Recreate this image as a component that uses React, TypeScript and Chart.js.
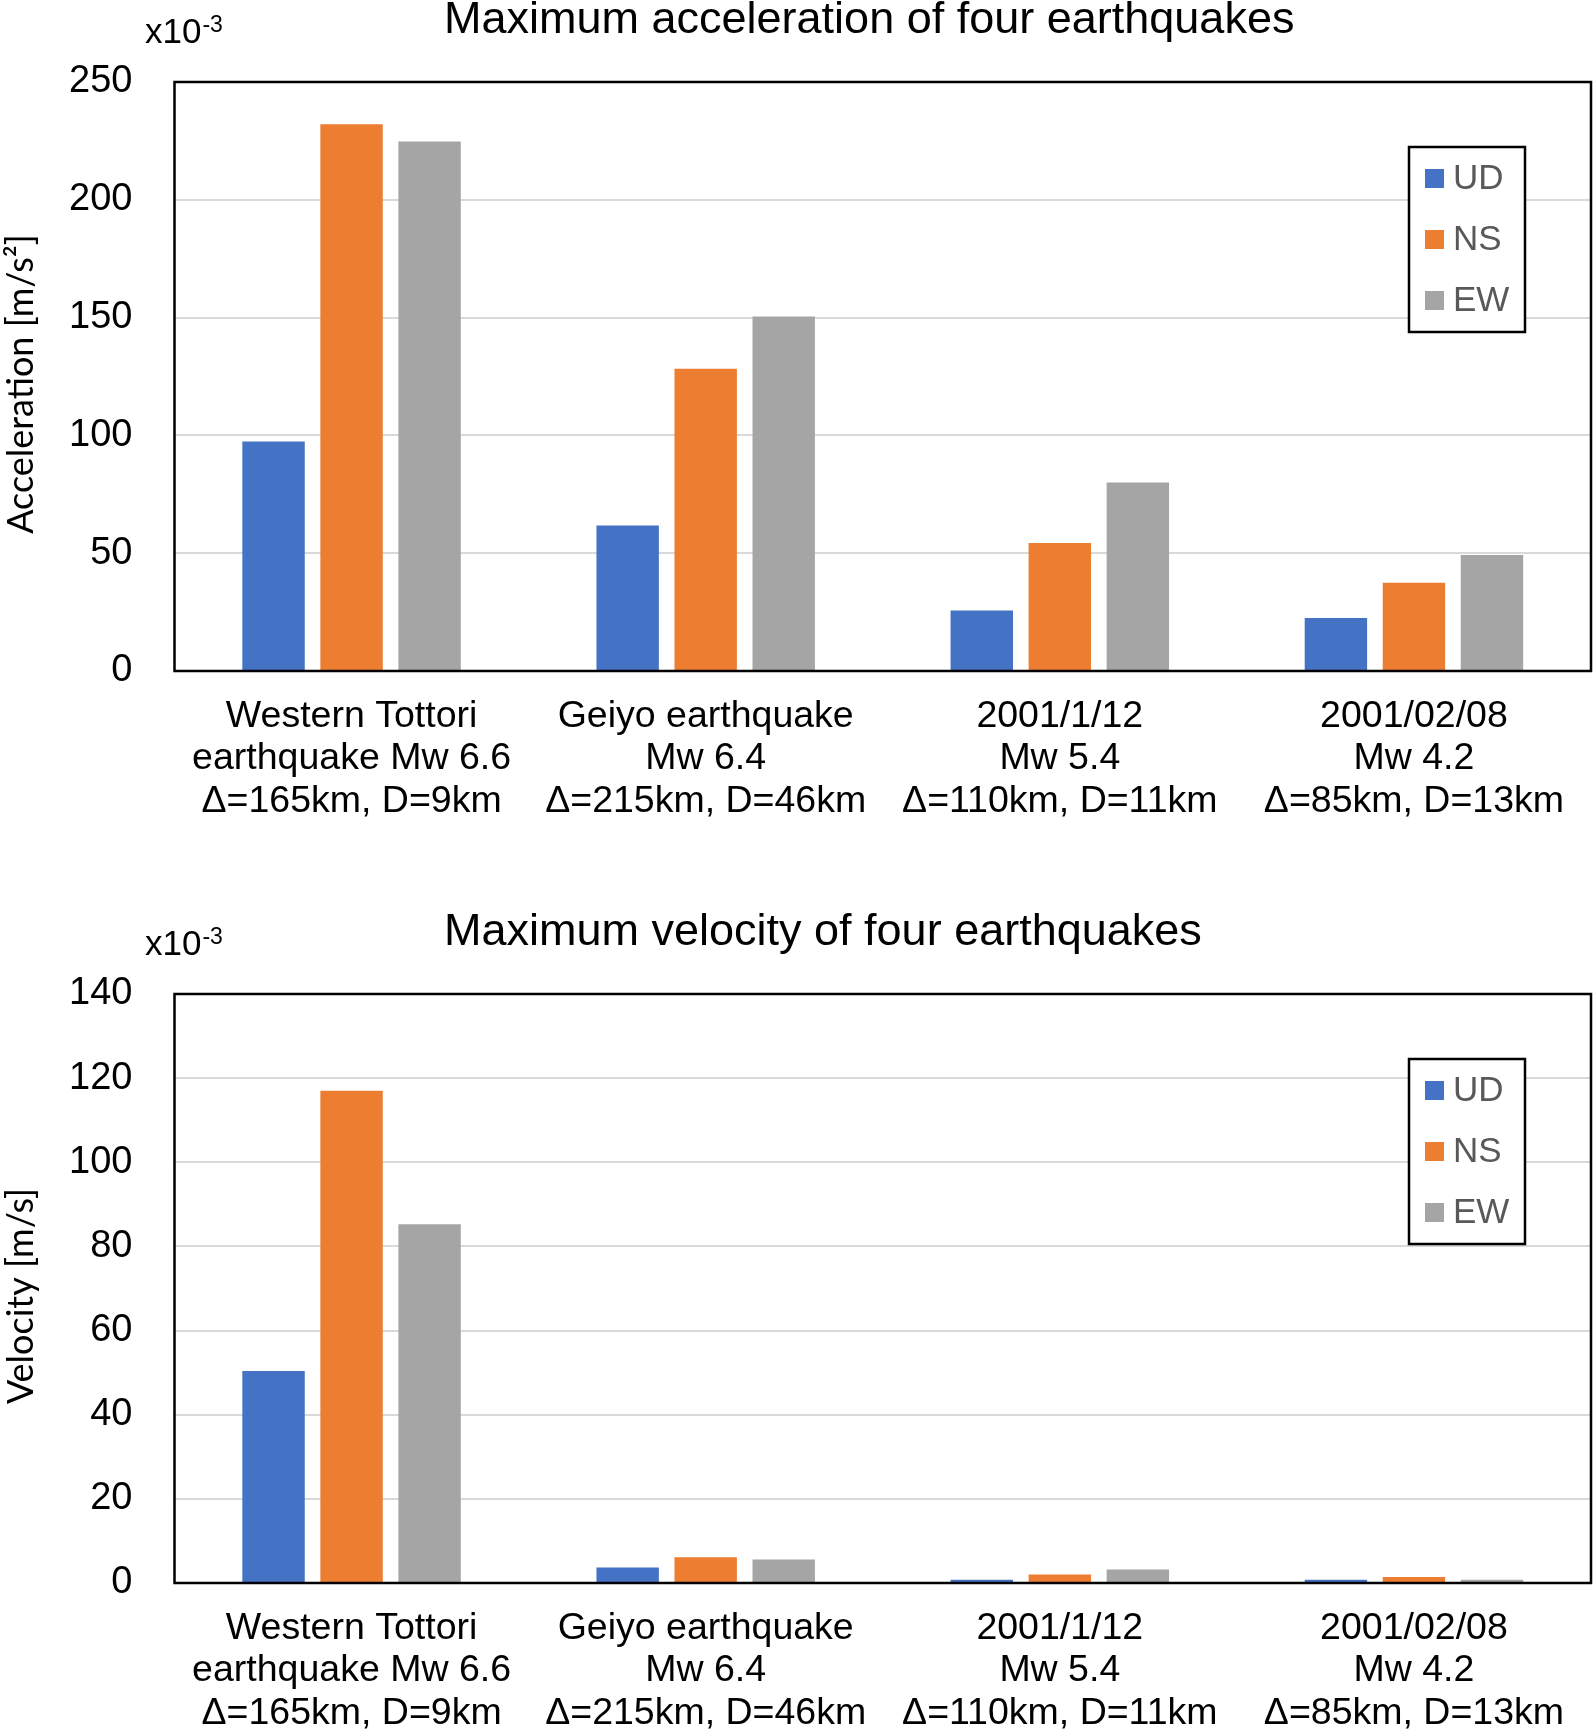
import React, { useEffect, useRef } from "react";
import { Chart, registerables } from "chart.js";

Chart.register(...registerables);

const FONT = "'Liberation Sans', Arial, sans-serif";

const categories: string[][] = [
  ["Western Tottori", "earthquake Mw 6.6", "Δ=165km, D=9km"],
  ["Geiyo earthquake", "Mw 6.4", "Δ=215km, D=46km"],
  ["2001/1/12", "Mw 5.4", "Δ=110km, D=11km"],
  ["2001/02/08", "Mw 4.2", "Δ=85km, D=13km"],
];
const seriesLabels = ["UD", "NS", "EW"];
const seriesColors = ["#4472C4", "#ED7D31", "#A5A5A5"];

const accUD = [97.4, 61.8, 25.7, 22.5];
const accNS = [232.1, 128.3, 54.3, 37.5];
const accEW = [224.7, 150.5, 80.0, 49.2];

const velUD = [50.4, 3.7, 0.8, 0.8];
const velNS = [117.0, 6.1, 2.0, 1.4];
const velEW = [85.3, 5.6, 3.2, 0.8];

const accAxis = { max: 250, step: 50 };
const velAxis = { max: 140, step: 20 };

const decoPlugin = {
  id: "deco",
  afterDatasetsDraw(chart: any, _args: any, opts: any) {
    const { ctx, chartArea: a } = chart;
    ctx.save();
    // plot border
    ctx.strokeStyle = "#000";
    ctx.lineWidth = 2.5;
    ctx.strokeRect(a.left, a.top, a.right - a.left, a.bottom - a.top);

    // legend box
    const bx = 1409, by = a.top + 65, bw = 116, bh = 185;
    ctx.fillStyle = "#fff";
    ctx.fillRect(bx, by, bw, bh);
    ctx.strokeStyle = "#000";
    ctx.lineWidth = 2.5;
    ctx.strokeRect(bx, by, bw, bh);
    ctx.font = `35px ${FONT}`;
    ctx.textAlign = "left";
    ctx.textBaseline = "middle";
    chart.data.datasets.forEach((ds: any, i: number) => {
      const cy = by + 31 + i * 61;
      ctx.fillStyle = ds.backgroundColor;
      ctx.fillRect(bx + 16, cy - 9, 19, 19);
      ctx.fillStyle = "#595959";
      ctx.fillText(ds.label, bx + 44, cy + 1);
    });

    // title
    ctx.fillStyle = "#000";
    ctx.textBaseline = "alphabetic";
    ctx.font = `45px ${FONT}`;
    ctx.fillText(opts.title, 444, 33);

    // x10^-3
    ctx.font = `35px ${FONT}`;
    ctx.fillText("x10", 145, 43);
    const w = ctx.measureText("x10").width;
    ctx.font = `23px ${FONT}`;
    ctx.fillText("-3", 145 + w + 1, 32);

    // y axis title
    ctx.save();
    ctx.translate(33, 384);
    ctx.rotate(-Math.PI / 2);
    ctx.textAlign = "center";
    ctx.textBaseline = "alphabetic";
    ctx.font = "36px Lato, 'Open Sans', sans-serif";
    ctx.fillText(opts.yTitle, 0, 0);
    ctx.restore();

    ctx.restore();
  },
};

function ChartPanel(props: {
  top: number;
  height: number;
  title: string;
  yTitle: string;
  axis: { max: number; step: number };
  values: number[][];
}) {
  const ref = useRef<HTMLCanvasElement | null>(null);
  useEffect(() => {
    if (!ref.current) return;
    const xHeight = props.height - 671;
    const chart = new Chart(ref.current, {
      type: "bar",
      data: {
        labels: categories,
        datasets: props.values.map((v, i) => ({
          label: seriesLabels[i],
          data: v,
          backgroundColor: seriesColors[i],
          borderWidth: 0,
          categoryPercentage: 0.661,
          barPercentage: 0.8,
        })),
      },
      options: {
        responsive: false,
        maintainAspectRatio: false,
        animation: false,
        devicePixelRatio: 1,
        layout: { padding: { top: 82, right: 3, left: 0, bottom: 0 } },
        plugins: {
          legend: { display: false },
          title: { display: false },
          tooltip: { enabled: false },
          deco: { title: props.title, yTitle: props.yTitle },
        } as any,
        scales: {
          x: {
            grid: { display: false, drawTicks: false },
            border: { display: false },
            ticks: {
              color: "#000",
              padding: 24,
              maxRotation: 0,
              autoSkip: false,
              font: { family: FONT, size: 37.5, lineHeight: 1.14 },
            },
            afterFit(scale: any) {
              scale.height = xHeight;
            },
          },
          y: {
            min: 0,
            max: props.axis.max,
            grid: { color: "#d9d9d9", lineWidth: 2, drawTicks: false },
            border: { display: false },
            ticks: {
              stepSize: props.axis.step,
              color: "#000",
              padding: 42,
              font: { family: FONT, size: 38 },
            },
            afterFit(scale: any) {
              scale.width = 174.5;
            },
          },
        },
      },
      plugins: [decoPlugin as any],
    });
    return () => chart.destroy();
  }, []);
  return (
    <canvas
      ref={ref}
      width={1594}
      height={props.height}
      style={{ position: "absolute", left: 0, top: props.top, width: 1594, height: props.height }}
    />
  );
}

export default function App() {
  return (
    <div
      style={{
        position: "absolute",
        left: 0,
        top: 0,
        width: 1594,
        height: 1730,
        overflow: "hidden",
        background: "#fff",
      }}
    >
      <ChartPanel
        top={0}
        height={912}
        title="Maximum acceleration of four earthquakes"
        yTitle="Acceleration [m/s²]"
        axis={accAxis}
        values={[accUD, accNS, accEW]}
      />
      <ChartPanel
        top={912}
        height={818}
        title="Maximum velocity of four earthquakes"
        yTitle="Velocity [m/s]"
        axis={velAxis}
        values={[velUD, velNS, velEW]}
      />
    </div>
  );
}
